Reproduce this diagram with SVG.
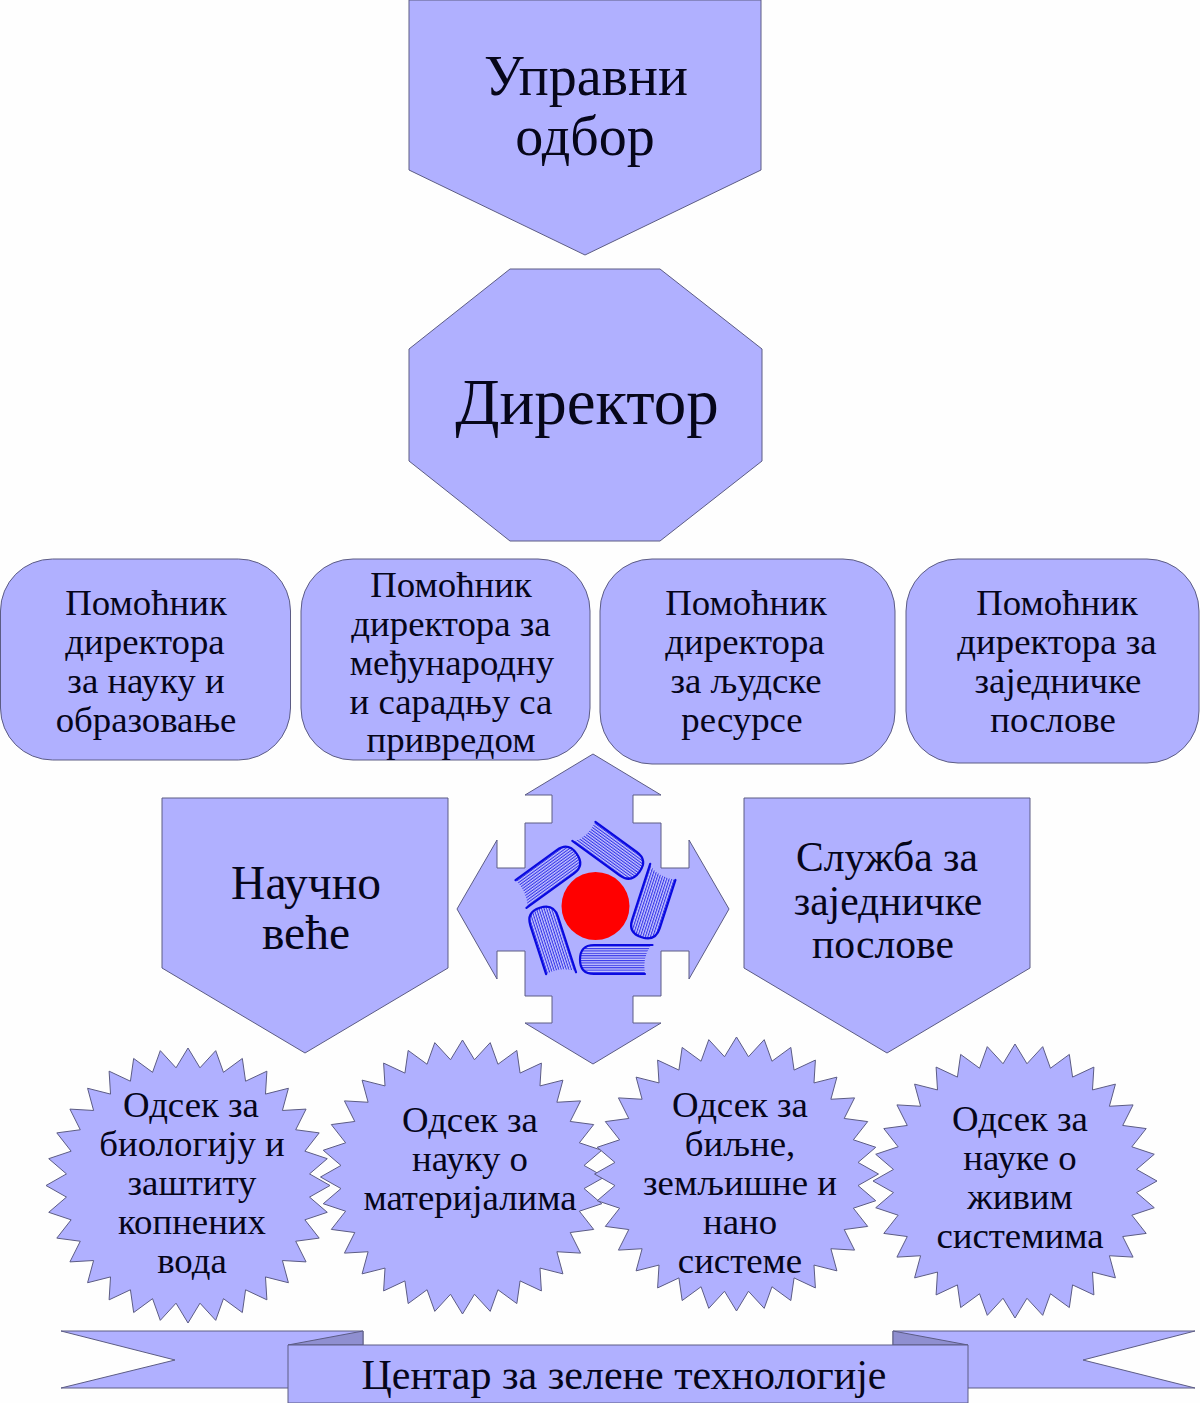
<svg xmlns="http://www.w3.org/2000/svg" xmlns:xlink="http://www.w3.org/1999/xlink" width="1200" height="1403" viewBox="0 0 1200 1403">
<style>
.s{fill:#b0b0ff;stroke:#5c5c84;stroke-width:1;stroke-linejoin:miter;vector-effect:non-scaling-stroke}
.f{fill:#8f8fd0;stroke:#5c5c84;stroke-width:1}
text{font-family:"Liberation Serif","Times New Roman",serif;fill:#06061a;text-anchor:middle}
.t36{font-size:36.8px}.t56{font-size:56px}.t70{font-size:65px}.t44{font-size:47.5px}.t40{font-size:41.6px}.t39{font-size:42px}
.pg{fill:url(#pages);stroke:none}
.bk{fill:none;stroke:#0a0ae0;stroke-width:2.2;stroke-linecap:round}
</style>
<defs>
<pattern id="pages" width="4" height="2.4" patternUnits="userSpaceOnUse"><rect width="4" height="2.4" fill="#c8c8ff"/><rect width="4" height="1.1" fill="#3434e8"/></pattern>
<polygon id="star" class="s" points="100,0 85.59,8.43 98.08,19.51 82.30,24.96 92.39,38.27 75.85,40.54 83.15,55.56 66.48,54.56 70.71,70.71 54.56,66.48 55.56,83.15 40.54,75.85 38.27,92.39 24.96,82.30 19.51,98.08 8.43,85.59 0,100 -8.43,85.59 -19.51,98.08 -24.96,82.30 -38.27,92.39 -40.54,75.85 -55.56,83.15 -54.56,66.48 -70.71,70.71 -66.48,54.56 -83.15,55.56 -75.85,40.54 -92.39,38.27 -82.30,24.96 -98.08,19.51 -85.59,8.43 -100,0 -85.59,-8.43 -98.08,-19.51 -82.30,-24.96 -92.39,-38.27 -75.85,-40.54 -83.15,-55.56 -66.48,-54.56 -70.71,-70.71 -54.56,-66.48 -55.56,-83.15 -40.54,-75.85 -38.27,-92.39 -24.96,-82.30 -19.51,-98.08 -8.43,-85.59 0,-100 8.43,-85.59 19.51,-98.08 24.96,-82.30 38.27,-92.39 40.54,-75.85 55.56,-83.15 54.56,-66.48 70.71,-70.71 66.48,-54.56 83.15,-55.56 75.85,-40.54 92.39,-38.27 82.30,-24.96 98.08,-19.51 85.59,-8.43"/>
<g id="book">
<path class="pg" d="M651,945 H594 Q580,945 580,959.5 Q580,974 594,974 H645 Q642,958 651,945 Z"/>
<path class="bk" d="M652.5,945 H594 Q580,945 580,959.5 Q580,974 594,974 H645"/>
</g>
</defs>
<rect width="1200" height="1403" fill="#fefefe"/>
<g id="upravni-odbor">
<polygon class="s" points="409,0 761,0 761,170 585,255 409,170"/>
<text class="t56" x="586" y="95">Управни</text>
<text class="t56" x="585" y="155">одбор</text>
</g>
<g id="direktor">
<polygon class="s" points="510,269 660,269 762,349 762,461 660,541 510,541 409,461 409,349"/>
<text class="t70" x="587" y="424">Директор</text>
</g>
<g id="pomocnik-1">
<rect class="s" x="0.5" y="559" width="290" height="201" rx="52"/>
<text class="t36" x="146" y="615">Помоћник</text>
<text class="t36" x="145" y="654">директора</text>
<text class="t36" x="146" y="693">за науку и</text>
<text class="t36" x="146" y="732">образовање</text>
</g>
<g id="pomocnik-2">
<rect class="s" x="301" y="559" width="289" height="201" rx="52"/>
<text class="t36" x="451" y="597">Помоћник</text>
<text class="t36" x="451" y="636">директора за</text>
<text class="t36" x="452" y="675">међународну</text>
<text class="t36" x="451" y="714">и сарадњу са</text>
<text class="t36" x="451" y="752">привредом</text>
</g>
<g id="pomocnik-3">
<rect class="s" x="600" y="559" width="295" height="205" rx="52"/>
<text class="t36" x="746" y="615">Помоћник</text>
<text class="t36" x="745" y="654">директора</text>
<text class="t36" x="746" y="693">за људске</text>
<text class="t36" x="742" y="732">ресурсе</text>
</g>
<g id="pomocnik-4">
<rect class="s" x="906" y="559" width="293" height="204" rx="52"/>
<text class="t36" x="1057" y="615">Помоћник</text>
<text class="t36" x="1057" y="654">директора за</text>
<text class="t36" x="1058" y="693">заједничке</text>
<text class="t36" x="1053" y="732">послове</text>
</g>
<g id="logo-arrows">
<polygon class="s" points="593,754 661,795 633,795 633,823 661,823 661,868 689,868 689,840 729,909 689,979 689,951 661,951 661,996 633,996 633,1023 661,1023 593,1064 525,1023 552,1023 552,996 525,996 525,951 497,951 497,979 457,909 497,840 497,868 525,868 525,823 552,823 552,795 525,795"/>
<use href="#book"/>
<use href="#book" transform="rotate(72 595.5 906)"/>
<use href="#book" transform="rotate(144 595.5 906)"/>
<use href="#book" transform="rotate(216 595.5 906)"/>
<use href="#book" transform="rotate(288 595.5 906)"/>
<circle cx="595.5" cy="906" r="34" fill="#ff0000"/>
</g>
<g id="naucno-vece">
<polygon class="s" points="162,798 448,798 448,968 305,1053 162,968"/>
<text class="t44" x="306" y="899">Научно</text>
<text class="t44" x="306" y="949">веће</text>
</g>
<g id="sluzba">
<polygon class="s" points="744,798 1030,798 1030,968 887,1053 744,968"/>
<text class="t40" x="887" y="871">Служба за</text>
<text class="t40" x="888" y="915">заједничке</text>
<text class="t40" x="883" y="958">послове</text>
</g>
<g id="odsek-1">
<use href="#star" transform="translate(188 1185.5) scale(1.42 1.375)"/>
<text class="t36" x="191" y="1117">Одсек за</text>
<text class="t36" x="192" y="1156">биологију и</text>
<text class="t36" x="192" y="1195">заштиту</text>
<text class="t36" x="192" y="1234">копнених</text>
<text class="t36" x="192" y="1273">вода</text>
</g>
<g id="odsek-2">
<use href="#star" transform="translate(462.5 1177) scale(1.42 1.37)"/>
<text class="t36" x="470" y="1132">Одсек за</text>
<text class="t36" x="470" y="1171">науку о</text>
<text class="t36" x="470" y="1210">материјалима</text>
</g>
<g id="odsek-3">
<use href="#star" transform="translate(736.5 1174) scale(1.42 1.37)"/>
<text class="t36" x="740" y="1117">Одсек за</text>
<text class="t36" x="740" y="1156">биљне,</text>
<text class="t36" x="740" y="1195">земљишне и</text>
<text class="t36" x="740" y="1234">нано</text>
<text class="t36" x="740" y="1273">системе</text>
</g>
<g id="odsek-4">
<use href="#star" transform="translate(1015 1181) scale(1.42 1.37)"/>
<text class="t36" x="1020" y="1131">Одсек за</text>
<text class="t36" x="1020" y="1170">науке о</text>
<text class="t36" x="1020" y="1209">живим</text>
<text class="t36" x="1020" y="1248">системима</text>
</g>
<g id="centar">
<polygon class="s" points="61,1331 363,1331 363,1388 61,1388 175,1360"/>
<polygon class="s" points="893,1331 1195,1331 1083,1360 1195,1388 893,1388"/>
<polygon class="f" points="288,1345 363,1331 363,1345"/>
<polygon class="f" points="968,1345 893,1331 893,1345"/>
<rect class="s" x="288" y="1345" width="680" height="58"/>
<text class="t39" x="624" y="1389">Центар за зелене технологије</text>
</g>
</svg>
